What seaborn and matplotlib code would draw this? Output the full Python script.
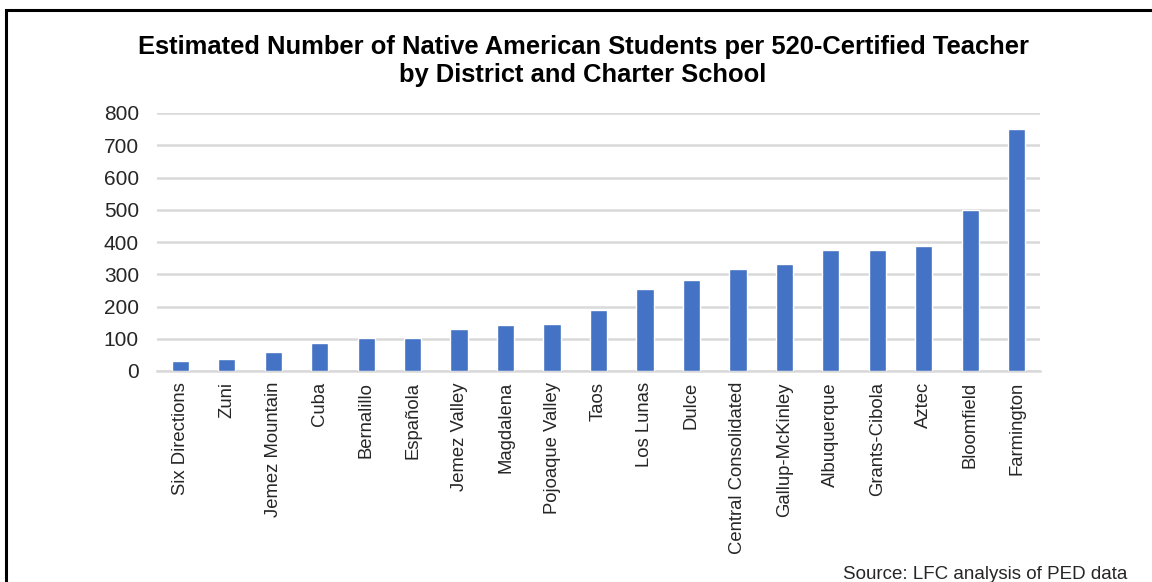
import pandas as pd
import seaborn as sns
import matplotlib
matplotlib.use('Agg')
import matplotlib.pyplot as plt
from matplotlib.patches import Rectangle

# Data
districts = ['Six Directions', 'Zuni', 'Jemez Mountain', 'Cuba', 'Bernalillo',
             'Española', 'Jemez Valley', 'Magdalena', 'Pojoaque Valley', 'Taos',
             'Los Lunas', 'Dulce', 'Central Consolidated', 'Gallup-McKinley',
             'Albuquerque', 'Grants-Cibola', 'Aztec', 'Bloomfield', 'Farmington']
students_per_teacher = [30, 38, 58, 86, 101, 101, 129, 142, 145, 189,
                        253, 281, 316, 333, 376, 376, 389, 499, 750]
y_ticks = [0, 100, 200, 300, 400, 500, 600, 700, 800]

df = pd.DataFrame({'District': districts, 'Students': students_per_teacher})

sns.set_style('white')
plt.rcParams['font.family'] = ['Liberation Sans', 'DejaVu Sans']

fig = plt.figure(figsize=(11.52, 5.82), dpi=100)
ax = fig.add_axes([157 / 1152, 1 - 371 / 582, (1040 - 157) / 1152, (371 - 113) / 582])

sns.barplot(data=df, x='District', y='Students', color='#4472C4',
            width=0.37, saturation=1, ax=ax, zorder=3)

ax.set_ylim(0, 800)
ax.set_xlim(-0.5, len(districts) - 0.5)
ax.set_yticks(y_ticks)
ax.yaxis.grid(True, color='#d9d9d9', linewidth=1.8, zorder=0)
ax.set_axisbelow(True)
for s in ['top', 'right', 'left']:
    ax.spines[s].set_visible(False)
ax.spines['bottom'].set_color('#d9d9d9')
ax.spines['bottom'].set_linewidth(1.8)
ax.tick_params(axis='both', length=0)
ax.tick_params(axis='y', labelsize=15, colors='#262626', pad=13)
ax.tick_params(axis='x', labelsize=13.3, colors='#262626', pad=8)
plt.setp(ax.get_xticklabels(), rotation=90)
ax.set_xlabel('')
ax.set_ylabel('')

fig.text(583 / 1152, 1 - 47 / 582,
         'Estimated Number of Native American Students per 520-Certified Teacher',
         ha='center', va='center', fontsize=18.4, fontweight='bold', color='black')
fig.text(583 / 1152, 1 - 75 / 582, 'by District and Charter School',
         ha='center', va='center', fontsize=18.4, fontweight='bold', color='black')
fig.text(1127 / 1152, 1 - 579 / 582, 'Source: LFC analysis of PED data',
         ha='right', va='baseline', fontsize=13.5, color='#262626')

# outer frame (right and bottom edges fall outside the picture)
fig.patches.append(Rectangle((6 / 1152, -0.1), 1.2, 1.1 - 10 / 582,
                             transform=fig.transFigure, fill=False,
                             edgecolor='black', linewidth=2.2))

fig.savefig('out.png', dpi=100)
